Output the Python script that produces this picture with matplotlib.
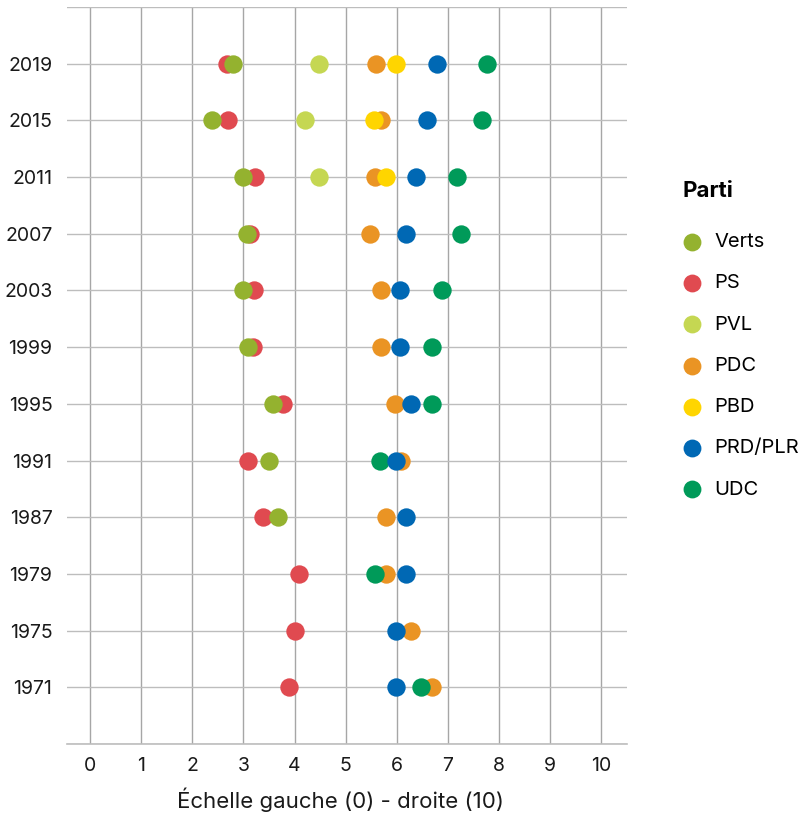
import numpy as np
import matplotlib
matplotlib.use("Agg")
import matplotlib.pyplot as plt

plt.rcParams["font.family"] = ["Inter", "DejaVu Sans"]

years = ["1971", "1975", "1979", "1987", "1991", "1995",
         "1999", "2003", "2007", "2011", "2015", "2019"]

# left-right position per party, aligned with years (None = no value)
verts = [None, None, None, 3.68, 3.50, 3.57, 3.08, 2.99, 3.06, 2.99, 2.38, 2.79]
ps = [3.89, 4.00, 4.08, 3.39, 3.08, 3.78, 3.19, 3.20, 3.13, 3.22, 2.70, 2.67]
pvl = [None, None, None, None, None, None, None, None, None, 4.48, 4.21, 4.48]
pdc = [6.68, 6.28, 5.79, 5.79, 6.08, 5.96, 5.69, 5.69, 5.48, 5.57, 5.69, 5.60]
pbd = [None, None, None, None, None, None, None, None, None, 5.79, 5.55, 5.99]
prd = [5.99, 5.99, 6.17, 6.18, 5.99, 6.28, 6.07, 6.07, 6.18, 6.38, 6.58, 6.78]
udc = [6.47, None, 5.57, None, 5.68, 6.68, 6.68, 6.88, 7.26, 7.17, 7.67, 7.77]

parties = ["Verts", "PS", "PVL", "PDC", "PBD", "PRD/PLR", "UDC"]
series = [verts, ps, pvl, pdc, pbd, prd, udc]
colors = ["#94b22f", "#e04a50", "#c5d752", "#ea9424", "#ffd500", "#0068b4", "#009a59"]
layer = [3, 2, 4, 5, 6, 8, 7]

fig = plt.figure(figsize=(8, 8.16), dpi=100)
ax = fig.add_axes([0.08375, 0.0882, 0.70, 0.9032])

ypos = np.arange(len(years))
for name, vals, col, z in zip(parties, series, colors, layer):
    xs = [v for v in vals if v is not None]
    ys = [y for y, v in zip(ypos, vals) if v is not None]
    ax.scatter(xs, ys, s=175, color=col, linewidths=0, zorder=z, label=name)

ax.set_xlim(-0.45, 10.5)
ax.set_ylim(-1, 12)
ax.set_xticks(range(11))
ax.set_yticks(ypos)
ax.set_yticklabels(years)
ax.set_yticks(np.arange(-1, 13), minor=True)

ax.grid(True, which="major", axis="x", color="#a6a6a6", lw=1.0, zorder=0)
ax.grid(True, which="minor", axis="y", color="#bdbdbd", lw=1.0, zorder=0)
ax.grid(True, which="major", axis="y", color="#bdbdbd", lw=1.0, zorder=0)
ax.set_axisbelow(True)

for side in ["left", "right", "top"]:
    ax.spines[side].set_visible(False)
ax.spines["bottom"].set_color("#bdbdbd")
ax.spines["bottom"].set_linewidth(1.2)

ax.tick_params(axis="both", which="both", length=0, labelsize=14, colors="#1a1a1a")
ax.tick_params(axis="x", pad=9)
ax.tick_params(axis="y", pad=10.5)
ax.set_xlabel("Échelle gauche (0) - droite (10)", fontsize=16, color="#1a1a1a",
              labelpad=9, x=0.489)

leg = fig.legend(loc="upper left", bbox_to_anchor=(0.8525, 0.778), frameon=False,
                 title="Parti", alignment="left", fontsize=14.5,
                 title_fontproperties={"weight": "bold", "size": 16},
                 handlelength=1.0, handletextpad=0.6, labelspacing=1.15,
                 borderaxespad=0, borderpad=0)
for h in leg.legend_handles:
    h.set_sizes([165])
leg._legend_box.sep = 23

fig.savefig("out.png", dpi=100)
